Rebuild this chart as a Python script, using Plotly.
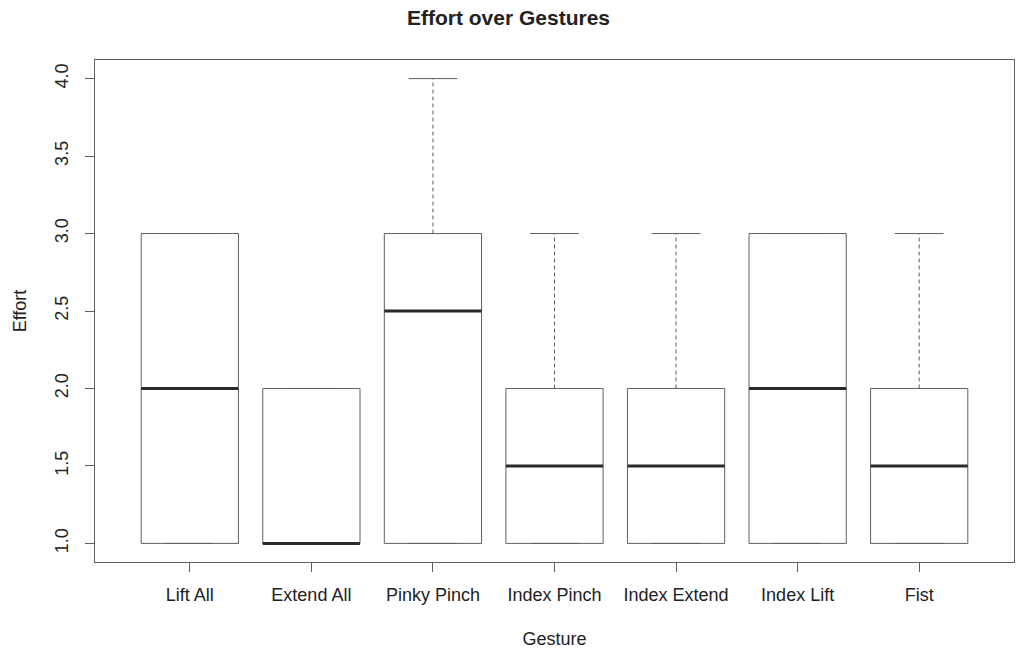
import plotly.graph_objects as go

gestures = ["Lift All", "Extend All", "Pinky Pinch", "Index Pinch", "Index Extend", "Index Lift", "Fist"]
mins = [1, 1, 1, 1, 1, 1, 1]
q1s = [1, 1, 1, 1, 1, 1, 1]
medians = [2, 1, 2.5, 1.5, 1.5, 2, 1.5]
q3s = [3, 2, 3, 2, 2, 3, 2]
maxs = [3, 2, 4, 3, 3, 3, 3]

BOXW = 0.4   # half width of box
CAPW = 0.2   # half width of staple
LINE = "#606060"
MED = "#2a2a2a"
TXT = "#222222"
FONT = "Liberation Sans, Arial, Helvetica, sans-serif"

pos = list(range(1, len(gestures) + 1))

bx, by, mx, my, wx, wy, cx, cy = [], [], [], [], [], [], [], []
for p, lo, a, m, b, hi in zip(pos, mins, q1s, medians, q3s, maxs):
    bx += [p - BOXW, p + BOXW, p + BOXW, p - BOXW, p - BOXW, None]
    by += [a, a, b, b, a, None]
    mx += [p - BOXW, p + BOXW, None]
    my += [m, m, None]
    wx += [p, p, None, p, p, None]
    wy += [b, hi, None, a, lo, None]
    cx += [p - CAPW, p + CAPW, None, p - CAPW, p + CAPW, None]
    cy += [hi, hi, None, lo, lo, None]

fig = go.Figure()
fig.add_trace(go.Scatter(x=wx, y=wy, mode="lines", line=dict(color=LINE, width=1, dash="4px,3px"), hoverinfo="skip"))
fig.add_trace(go.Scatter(x=cx, y=cy, mode="lines", line=dict(color=LINE, width=1), hoverinfo="skip"))
fig.add_trace(go.Scatter(x=bx, y=by, mode="lines", line=dict(color=LINE, width=1), hoverinfo="skip"))
fig.add_trace(go.Scatter(x=mx, y=my, mode="lines", line=dict(color=MED, width=3), hoverinfo="skip"))

fig.update_layout(
    width=1017, height=656,
    margin=dict(l=95, r=2, t=60, b=94),
    plot_bgcolor="white", paper_bgcolor="white",
    showlegend=False,
    font=dict(family=FONT, size=18, color=TXT),
    title=dict(text="<b>Effort over Gestures</b>", x=0.5, xanchor="center",
               y=1 - 18 / 656, yanchor="middle", yref="container",
               font=dict(size=21, color=TXT)),
    xaxis=dict(range=[0.22, 7.78], tickvals=pos, ticktext=gestures,
               ticks="outside", ticklen=9, tickcolor=LINE, showline=True,
               linecolor=LINE, linewidth=1, mirror=True, showgrid=False,
               zeroline=False, ticklabelstandoff=7,
               title=dict(text="Gesture", standoff=28, font=dict(size=18))),
    yaxis=dict(range=[0.88, 4.12], tickvals=[1, 1.5, 2, 2.5, 3, 3.5, 4],
               tickformat=".1f", tickangle=-90,
               ticks="outside", ticklen=9, tickcolor=LINE, showline=True,
               linecolor=LINE, linewidth=1, mirror=True, showgrid=False,
               zeroline=False, ticklabelstandoff=10,
               title=dict(text="Effort", standoff=20, font=dict(size=18))),
)

post = ("document.documentElement.style.margin='0';"
        "document.body.style.margin='0';"
        "document.body.style.overflow='hidden';"
        "Plotly.relayout(document.getElementById('{plot_id}'), {width:1017, height:656});")

fig.write_html("out.html", post_script=post, config={"displayModeBar": False})
